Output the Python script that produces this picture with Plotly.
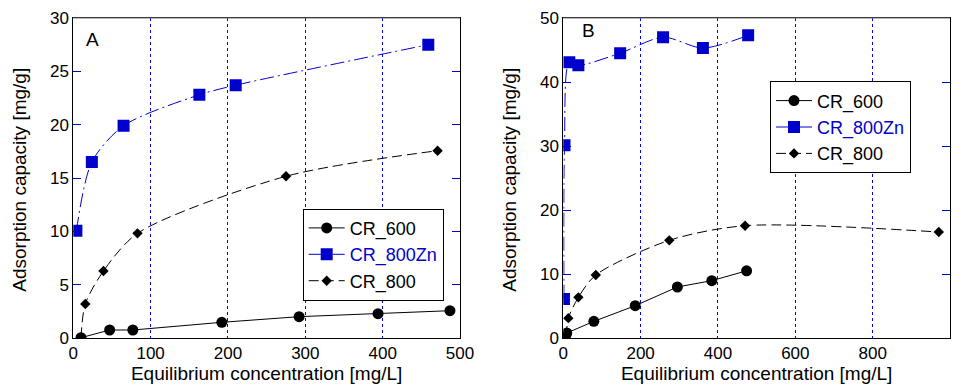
import plotly.graph_objects as go

BLUE = "#0000cc"
GRIDBLUE = "#0000ff"

# Panel A data
a600_x = [10, 47, 77, 192, 292, 394, 487]
a600_y = [0.03, 0.75, 0.75, 1.47, 2.0, 2.28, 2.56]
a800zn_x = [4, 24, 65, 163, 210, 459]
a800zn_y = [10.05, 16.5, 19.9, 22.8, 23.7, 27.5]
a800_x = [10, 15.5, 39, 83, 275, 471]
a800_y = [0.05, 3.19, 6.28, 9.81, 15.16, 17.56]

# Panel B data
b600_x = [5, 9, 79, 186, 295, 384, 474]
b600_y = [0.2, 0.78, 2.6, 5.05, 7.97, 8.96, 10.5]
b800zn_x = [1.7, 3.1, 15.5, 39, 147, 258, 361, 478]
b800zn_y = [6.1, 30.1, 43.1, 42.6, 44.5, 47.0, 45.3, 47.3]
b800_x = [8, 13, 39, 84, 274, 470, 971]
b800_y = [0.3, 3.1, 6.35, 9.84, 15.26, 17.55, 16.56]

names = ["CR_600", "CR_800Zn", "CR_800"]
panel_labels = ["A", "B"]
x_title = "Equilibrium concentration [mg/L]"
y_title = "Adsorption capacity [mg/g]"

fig = go.Figure()

def add_set(xa, ya, legend, x600, y600, xzn, yzn, x800, y800):
    fig.add_trace(go.Scatter(x=x600, y=y600, name=names[0], mode="lines+markers",
                             xaxis=xa, yaxis=ya, legend=legend,
                             line=dict(color="black", width=1),
                             marker=dict(symbol="circle", size=11, color="black")))
    fig.add_trace(go.Scatter(x=xzn, y=yzn, name='<span style="color:%s">%s</span>' % (BLUE, names[1]),
                             mode="lines+markers", xaxis=xa, yaxis=ya, legend=legend,
                             line=dict(color=BLUE, width=1, dash="14px,4px,2px,4px", shape="spline", smoothing=0.8),
                             marker=dict(symbol="square", size=12, color=BLUE)))
    fig.add_trace(go.Scatter(x=x800, y=y800, name=names[2], mode="lines+markers",
                             xaxis=xa, yaxis=ya, legend=legend,
                             line=dict(color="black", width=1, dash="10px,5px", shape="spline", smoothing=0.8),
                             marker=dict(symbol="diamond", size=8, color="black")))

add_set("x", "y", "legend", a600_x, a600_y, a800zn_x, a800zn_y, a800_x, a800_y)
add_set("x2", "y2", "legend2", b600_x, b600_y, b800zn_x, b800zn_y, b800_x, b800_y)

# the page body has an 8px margin, so the figure is 8px smaller and coordinates shifted
OFF = 8
W, H = 968 - OFF, 389 - OFF
MT = 18.3 - OFF
MB = H - (338.3 - OFF)
PH = H - MT - MB
font = "Liberation Sans, Arial, sans-serif"

def fx(pix):
    return (pix - OFF) / W

def py(pix):
    return (H - MB - (pix - OFF)) / PH

def xax(dom, rng, dtick):
    return dict(domain=dom, range=rng, dtick=dtick, showgrid=True, gridcolor=GRIDBLUE,
                griddash="dot", gridwidth=1, zeroline=False, showline=True, linecolor="black",
                linewidth=1, mirror=True, ticks="", tickfont=dict(size=17, color="black"),
                automargin=False,
                title=dict(text=x_title, font=dict(size=19), standoff=4))

def yax(anchor, rng, dtick):
    return dict(domain=[0, 1], range=rng, dtick=dtick, showgrid=False,
                zeroline=False, showline=True, linecolor="black", linewidth=1, mirror="ticks",
                ticks="inside", ticklen=8, tickcolor=BLUE, tickwidth=1, anchor=anchor,
                tickfont=dict(size=17, color="black"), automargin=False)

leg_common = dict(bgcolor="white", bordercolor="black", borderwidth=1,
                  font=dict(size=18, color="black", family=font), xanchor="left", yanchor="top",
                  itemwidth=36, tracegroupgap=0)

def ann(text, x, y, angle=0):
    return dict(text=text, x=x, y=y, xref="paper", yref="paper", showarrow=False,
                xanchor="center", yanchor="middle", textangle=angle,
                font=dict(size=19, color="black"))

fig.update_layout(
    width=W, height=H, margin=dict(l=0, r=0, t=MT, b=MB, autoexpand=False),
    paper_bgcolor="white", plot_bgcolor="white",
    font=dict(family=font, color="black"),
    xaxis=xax([fx(73.3), fx(460)], [0, 500], 100),
    yaxis=yax("x", [0, 30], 5),
    xaxis2=xax([fx(563.3), fx(950)], [0, 1000], 200),
    yaxis2=yax("x2", [0, 50], 10),
    legend=dict(x=fx(302.7), y=py(209), **leg_common),
    legend2=dict(x=fx(770), y=py(81.7), **leg_common),
    annotations=[
        ann(panel_labels[0], fx(92.7), py(40)),
        ann(panel_labels[1], fx(588), py(31)),
        ann(y_title, fx(20), py(180), -90),
        ann(y_title, fx(510), py(180), -90),
    ],
    shapes=[
        dict(type="line", xref="x domain", yref="y domain", x0=0, x1=1, y0=1, y1=1,
             line=dict(color="#777777", width=1)),
        dict(type="line", xref="x2 domain", yref="y2 domain", x0=0, x1=1, y0=1, y1=1,
             line=dict(color="#777777", width=1)),
    ],
)

fig.write_html("out.html")
